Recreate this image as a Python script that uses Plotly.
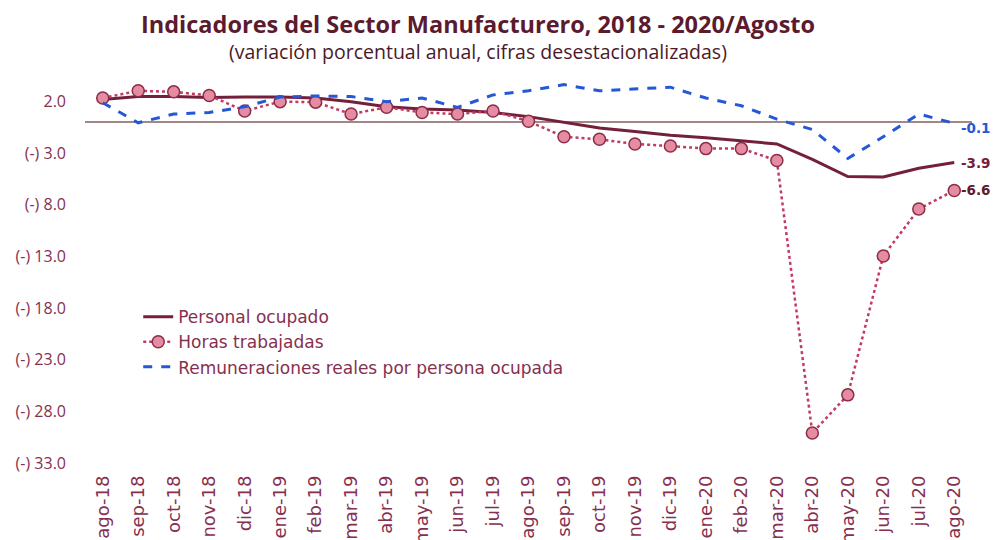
import plotly.graph_objects as go

months = ["ago-18", "sep-18", "oct-18", "nov-18", "dic-18", "ene-19", "feb-19", "mar-19",
          "abr-19", "may-19", "jun-19", "jul-19", "ago-19", "sep-19", "oct-19", "nov-19",
          "dic-19", "ene-20", "feb-20", "mar-20", "abr-20", "may-20", "jun-20", "jul-20", "ago-20"]

personal = [2.2, 2.5, 2.5, 2.4, 2.45, 2.45, 2.35, 2.0, 1.5, 1.3, 1.2, 0.95, 0.55, 0.0,
            -0.55, -0.9, -1.25, -1.5, -1.8, -2.1, -3.6, -5.25, -5.3, -4.45, -3.9]

horas = [2.35, 3.05, 2.95, 2.6, 1.1, 2.0, 1.95, 0.8, 1.45, 0.95, 0.8, 1.1, 0.1, -1.4,
         -1.65, -2.1, -2.3, -2.55, -2.55, -3.7, -30.1, -26.4, -12.95, -8.4, -6.6]

remun = [1.9, -0.05, 0.8, 0.95, 1.5, 2.45, 2.55, 2.5, 2.0, 2.35, 1.45, 2.65, 3.05, 3.65,
         3.05, 3.2, 3.4, 2.35, 1.6, 0.3, -0.7, -3.5, -1.4, 0.8, -0.1]

ytick_vals = [2, -3, -8, -13, -18, -23, -28, -33]
ytick_text = ["2.0", "(-) 3.0", "(-) 8.0", "(-) 13.0", "(-) 18.0", "(-) 23.0", "(-) 28.0", "(-) 33.0"]

MAROON = "#74203A"
PINK_LINE = "#C23A62"
PINK_FILL = "#E58CA3"
PINK_EDGE = "#8A2D48"
BLUE = "#2458D6"
TEXT = "#86304F"

fig = go.Figure()
fig.add_trace(go.Scatter(x=months, y=personal, name="Personal ocupado", mode="lines",
                         line=dict(color=MAROON, width=3)))
fig.add_trace(go.Scatter(x=months, y=horas, name="Horas trabajadas", mode="lines+markers",
                         line=dict(color=PINK_LINE, width=2.5, dash="dot"),
                         marker=dict(size=12, color=PINK_FILL, line=dict(color=PINK_EDGE, width=1.5))))
fig.add_trace(go.Scatter(x=months, y=remun, name="Remuneraciones reales por persona ocupada",
                         mode="lines", line=dict(color=BLUE, width=3, dash="dash")))

ends = [(remun[-1], BLUE, 5), (personal[-1], MAROON, 0), (horas[-1], "#5E1B30", 0)]
for val, col, ys in ends:
    fig.add_annotation(x=months[-1], y=val, text=f"<b>{val:.1f}</b>", showarrow=False,
                       xanchor="left", xshift=5, yshift=-ys,
                       font=dict(family="DejaVu Sans", size=13.5, color=col))

fig.add_annotation(xref="paper", yref="paper", x=0.443, y=1.149,
                   text="<b>Indicadores del Sector Manufacturero, 2018 - 2020/Agosto</b>",
                   showarrow=False, xanchor="center", yanchor="middle",
                   font=dict(family="Open Sans", size=23.5, color="#5C1A2E"))
fig.add_annotation(xref="paper", yref="paper", x=0.443, y=1.076,
                   text="(variación porcentual anual, cifras desestacionalizadas)",
                   showarrow=False, xanchor="center", yanchor="middle",
                   font=dict(family="Open Sans", size=19.5, color="#4A1A28"))

fig.update_layout(
    width=994, height=532,
    paper_bgcolor="white", plot_bgcolor="white",
    margin=dict(l=77, r=30, t=73, b=77),
    showlegend=True,
    legend=dict(x=0.06, y=0.429, xanchor="left", yanchor="top", bgcolor="rgba(0,0,0,0)",
                font=dict(family="DejaVu Sans", size=17, color=TEXT), tracegroupgap=0,
                itemwidth=30),
    font=dict(family="DejaVu Sans", color=TEXT),
)
fig.update_xaxes(type="category", range=[-0.5, 24.5], showgrid=False, showline=False,
                 tickangle=-90, tickfont=dict(family="DejaVu Sans", size=18, color=TEXT),
                 ticks="", ticklabelstandoff=8, automargin=False)
fig.update_yaxes(range=[-33, 4], showgrid=False, showline=False, tickvals=ytick_vals,
                 ticktext=ytick_text, ticks="", ticklabelstandoff=18,
                 tickfont=dict(family="Open Sans", size=16, color=TEXT),
                 zeroline=True, zerolinecolor="#A08888", zerolinewidth=2, automargin=False)

fig.write_html("out.html")
